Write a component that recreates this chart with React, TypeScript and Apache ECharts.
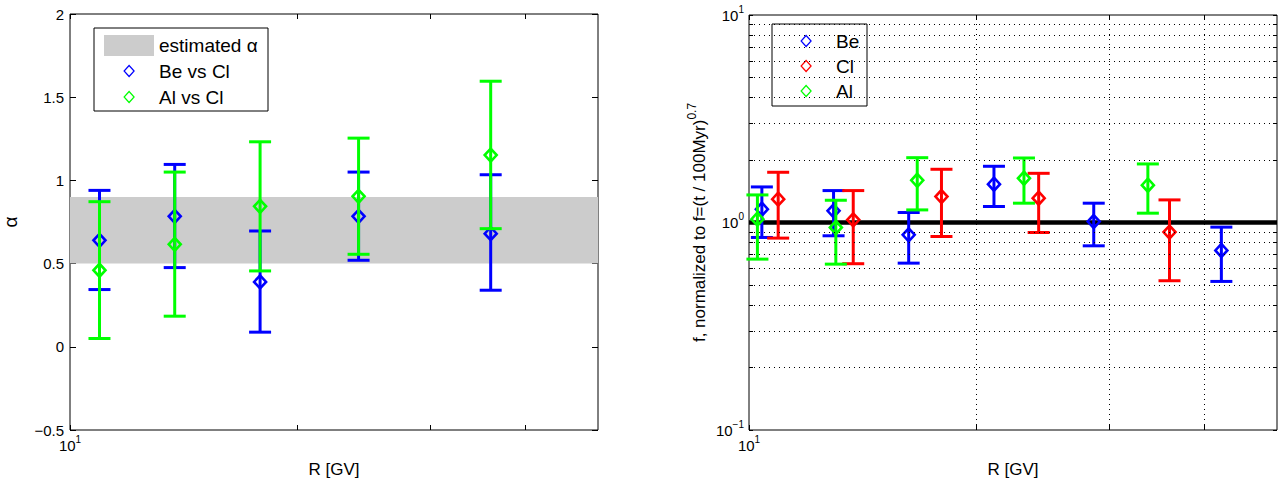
import React, { useEffect, useRef } from "react";
import * as echarts from "echarts";

const FONT = '"Liberation Sans", Arial, Helvetica, sans-serif';

// ---------- Left panel: alpha vs rigidity ----------
const alphaR = [10.94, 13.76, 17.85, 24.1, 36.05];
const beVsClAlpha = [0.64, 0.784, 0.39, 0.784, 0.68];
const beVsClLow = [0.344, 0.476, 0.088, 0.52, 0.34];
const beVsClHigh = [0.94, 1.096, 0.696, 1.05, 1.034];
const alVsClAlpha = [0.46, 0.616, 0.844, 0.904, 1.152];
const alVsClLow = [0.05, 0.184, 0.456, 0.556, 0.71];
const alVsClHigh = [0.872, 1.05, 1.232, 1.254, 1.596];
const alphaBand = [0.5, 0.9];

// ---------- Right panel: normalized f vs rigidity ----------
const beR = [10.4, 12.94, 16.27, 21.1, 28.6, 42.2];
const beF = [1.159, 1.138, 0.872, 1.529, 1.011, 0.733];
const beLow = [0.847, 0.863, 0.637, 1.194, 0.772, 0.52];
const beHigh = [1.484, 1.425, 1.117, 1.866, 1.239, 0.95];

const clR = [10.93, 13.74, 17.98, 24.18, 36.03];
const clF = [1.295, 1.03, 1.334, 1.309, 0.899];
const clLow = [0.841, 0.633, 0.856, 0.895, 0.524];
const clHigh = [1.746, 1.425, 1.805, 1.726, 1.285];

const alR = [10.26, 13.03, 16.7, 23.12, 33.73];
const alF = [1.038, 0.946, 1.598, 1.634, 1.512];
const alLow = [0.666, 0.63, 1.15, 1.239, 1.109];
const alHigh = [1.358, 1.28, 2.053, 2.046, 1.915];

const refR = [10, 50];
const refF = [1, 1];

// ---------- Axis ticks ----------
const rRange = [10, 50];
const rTicks = [10, 20, 30, 40];
const rGrid = [20, 30, 40];
const rLabelTicks = [10];
const alphaRange = [-0.5, 2];
const alphaStep = 0.5;
const fRange = [0.1, 10];
const fMajorTicks = [0.1, 1, 10];
const fMinorTicks = [0.2, 0.3, 0.4, 0.5, 0.6, 0.7, 0.8, 0.9, 2, 3, 4, 5, 6, 7, 8, 9];

const BLUE = "#0000ff";
const GREEN = "#00ff00";
const RED = "#ff0000";

const zip4 = (x: number[], y: number[], lo: number[], hi: number[]) =>
  x.map((v, i) => [v, y[i], lo[i], hi[i]]);

const errRender = (color: string) => (params: any, api: any) => {
  const x = api.value(0);
  const c = api.coord([x, api.value(1)]);
  const l = api.coord([x, api.value(2)]);
  const h = api.coord([x, api.value(3)]);
  const hw = 11;
  const st = { stroke: color, lineWidth: 3, fill: "none" };
  return {
    type: "group",
    children: [
      { type: "line", shape: { x1: c[0], y1: h[1], x2: c[0], y2: l[1] }, style: st },
      { type: "line", shape: { x1: c[0] - hw, y1: h[1], x2: c[0] + hw, y2: h[1] }, style: st },
      { type: "line", shape: { x1: c[0] - hw, y1: l[1], x2: c[0] + hw, y2: l[1] }, style: st },
      {
        type: "polygon",
        shape: {
          points: [
            [c[0], c[1] - 6.5],
            [c[0] + 6, c[1]],
            [c[0], c[1] + 6.5],
            [c[0] - 6, c[1]],
          ],
        },
        style: { stroke: color, lineWidth: 2.6, fill: "none" },
      },
    ],
  };
};

const supRich = {
  b: { fontSize: 15, lineHeight: 22, fontFamily: FONT, color: "#000" },
  s: { fontSize: 10, lineHeight: 12, verticalAlign: "top", fontFamily: FONT, color: "#000" },
};
const pow10 = (v: number) => {
  const e = Math.round(Math.log10(v));
  return `{b|10}{s|${e < 0 ? "\u2212" + -e : e}}`;
};

const nameStyle = { fontSize: 17, fontFamily: FONT, color: "#000" };

const xAxisOf = (gridIndex: number, position: string, labels: boolean) => ({
  type: "log",
  logBase: 10,
  gridIndex,
  position,
  min: rRange[0],
  max: rRange[1],
  axisLine: { show: false, onZero: false },
  axisTick: {
    show: true,
    inside: true,
    length: 5,
    customValues: rTicks,
    lineStyle: { color: "#000", width: 1 },
  },
  axisLabel: labels
    ? { show: true, customValues: rLabelTicks, formatter: pow10, margin: 4, rich: supRich }
    : { show: false },
  splitLine: { show: false },
  name: labels ? "R [GV]" : "",
  nameLocation: "middle",
  nameGap: 31,
  nameTextStyle: nameStyle,
});

const DIAMOND = "path://M5,0 L10,5.5 L5,11 L0,5.5 Z";
const legendText = { fontSize: 19, fontFamily: FONT, color: "#000", lineHeight: 20 };

export default function App() {
  const ref = useRef<HTMLDivElement>(null);
  useEffect(() => {
    document.body.style.margin = "0";
    if (!ref.current) return;
    const chart = echarts.init(ref.current, null, { renderer: "svg" });
    const option: any = {
      animation: false,
      backgroundColor: "#ffffff",
      grid: [
        { left: 69, top: 14, width: 529, height: 416, show: true, borderColor: "#000", borderWidth: 1, backgroundColor: "transparent" },
        { left: 749, top: 15, width: 528, height: 416, show: true, borderColor: "#000", borderWidth: 1, backgroundColor: "transparent" },
      ],
      xAxis: [
        xAxisOf(0, "bottom", true),
        xAxisOf(0, "top", false),
        xAxisOf(1, "bottom", true),
        xAxisOf(1, "top", false),
      ],
      yAxis: [
        {
          type: "value",
          gridIndex: 0,
          position: "left",
          min: alphaRange[0],
          max: alphaRange[1],
          interval: alphaStep,
          axisLine: { show: false, onZero: false },
          axisTick: { show: true, inside: true, length: 6, lineStyle: { color: "#000" } },
          axisLabel: {
            margin: 6,
            fontSize: 15,
            fontFamily: FONT,
            color: "#000",
            formatter: (v: number) => (v < 0 ? "\u2212" + Math.abs(v) : String(v)),
          },
          splitLine: { show: false },
          name: "α",
          nameLocation: "middle",
          nameGap: 50,
          nameTextStyle: { ...nameStyle, fontSize: 19 },
        },
        {
          type: "value",
          gridIndex: 0,
          position: "right",
          min: alphaRange[0],
          max: alphaRange[1],
          interval: alphaStep,
          axisLine: { show: false, onZero: false },
          axisTick: { show: true, inside: true, length: 6, lineStyle: { color: "#000" } },
          axisLabel: { show: false },
          splitLine: { show: false },
        },
        {
          type: "log",
          logBase: 10,
          gridIndex: 1,
          position: "left",
          min: fRange[0],
          max: fRange[1],
          axisLine: { show: false, onZero: false },
          axisTick: {
            show: true,
            inside: true,
            length: 4,
            customValues: [...fMajorTicks, ...fMinorTicks],
            lineStyle: { color: "#000" },
          },
          axisLabel: { customValues: fMajorTicks, formatter: pow10, margin: 5, rich: supRich },
          splitLine: { show: false },
          name: "f, normalized to f=(t / 100Myr){s|0.7}",
          nameLocation: "middle",
          nameGap: 37,
          nameTextStyle: {
            ...nameStyle,
            lineHeight: 26,
            rich: {
              s: { fontSize: 12, lineHeight: 12, verticalAlign: "top", fontFamily: FONT, color: "#000" },
            },
          },
        },
        {
          type: "log",
          logBase: 10,
          gridIndex: 1,
          position: "right",
          min: fRange[0],
          max: fRange[1],
          axisLine: { show: false, onZero: false },
          axisTick: {
            show: true,
            inside: true,
            length: 4,
            customValues: [...fMajorTicks, ...fMinorTicks],
            lineStyle: { color: "#000" },
          },
          axisLabel: { show: false },
          splitLine: { show: false },
        },
      ],
      legend: [
        {
          data: [{ name: "estimated α", icon: "rect", itemStyle: { color: "#cccccc" } }],
          left: 104,
          top: 35,
          padding: 0,
          itemWidth: 50,
          itemHeight: 21,
          selectedMode: false,
          textStyle: legendText,
        },
        {
          data: [
            { name: "Be vs Cl", icon: DIAMOND, itemStyle: { color: "rgba(0,0,0,0)", borderColor: BLUE, borderWidth: 1.2 } },
            { name: "Al vs Cl", icon: DIAMOND, itemStyle: { color: "rgba(0,0,0,0)", borderColor: GREEN, borderWidth: 1.2 } },
          ],
          orient: "vertical",
          left: 123.5,
          top: 61,
          padding: 0,
          itemWidth: 50,
          itemHeight: 11,
          itemGap: 6,
          selectedMode: false,
          textStyle: legendText,
        },
        {
          data: [
            { name: "Be", icon: DIAMOND, itemStyle: { color: "rgba(0,0,0,0)", borderColor: BLUE, borderWidth: 1.2 } },
            { name: "Cl", icon: DIAMOND, itemStyle: { color: "rgba(0,0,0,0)", borderColor: RED, borderWidth: 1.2 } },
            { name: "Al", icon: DIAMOND, itemStyle: { color: "rgba(0,0,0,0)", borderColor: GREEN, borderWidth: 1.2 } },
          ],
          orient: "vertical",
          left: 800.5,
          top: 31,
          padding: 0,
          itemWidth: 50,
          itemHeight: 11,
          itemGap: 5,
          selectedMode: false,
          textStyle: legendText,
        },
      ],
      graphic: [
        { type: "rect", z: 3, shape: { x: 94, y: 28, width: 174, height: 83 }, style: { fill: "#fff", stroke: "#000", lineWidth: 1 } },
        { type: "rect", z: 3, shape: { x: 772, y: 24, width: 95, height: 82 }, style: { fill: "#fff", stroke: "#000", lineWidth: 1 } },
      ],
      series: [
        {
          name: "estimated α",
          type: "line",
          xAxisIndex: 0,
          yAxisIndex: 0,
          data: [],
          silent: true,
          markArea: {
            silent: true,
            itemStyle: { color: "#cccccc" },
            data: [[{ yAxis: alphaBand[0] }, { yAxis: alphaBand[1] }]],
          },
        },
        {
          name: "Be vs Cl",
          type: "custom",
          xAxisIndex: 0,
          yAxisIndex: 0,
          z: 3,
          itemStyle: { color: BLUE },
          encode: { x: 0, y: [1, 2, 3] },
          renderItem: errRender(BLUE),
          data: zip4(alphaR, beVsClAlpha, beVsClLow, beVsClHigh),
        },
        {
          name: "Al vs Cl",
          type: "custom",
          xAxisIndex: 0,
          yAxisIndex: 0,
          z: 3,
          itemStyle: { color: GREEN },
          encode: { x: 0, y: [1, 2, 3] },
          renderItem: errRender(GREEN),
          data: zip4(alphaR, alVsClAlpha, alVsClLow, alVsClHigh),
        },
        {
          name: "grid",
          type: "line",
          xAxisIndex: 2,
          yAxisIndex: 2,
          data: [],
          silent: true,
          markLine: {
            silent: true,
            symbol: ["none", "none"],
            label: { show: false },
            lineStyle: { color: "#000", width: 1, type: [1, 4] },
            data: [...rGrid.map((v) => ({ xAxis: v })), ...fMinorTicks.map((v) => ({ yAxis: v }))],
          },
        },
        {
          name: "reference",
          type: "line",
          xAxisIndex: 2,
          yAxisIndex: 2,
          symbol: "none",
          silent: true,
          z: 2,
          lineStyle: { color: "#000", width: 4.5 },
          data: refR.map((r, i) => [r, refF[i]]),
        },
        {
          name: "Be",
          type: "custom",
          xAxisIndex: 2,
          yAxisIndex: 2,
          z: 3,
          itemStyle: { color: BLUE },
          encode: { x: 0, y: [1, 2, 3] },
          renderItem: errRender(BLUE),
          data: zip4(beR, beF, beLow, beHigh),
        },
        {
          name: "Cl",
          type: "custom",
          xAxisIndex: 2,
          yAxisIndex: 2,
          z: 3,
          itemStyle: { color: RED },
          encode: { x: 0, y: [1, 2, 3] },
          renderItem: errRender(RED),
          data: zip4(clR, clF, clLow, clHigh),
        },
        {
          name: "Al",
          type: "custom",
          xAxisIndex: 2,
          yAxisIndex: 2,
          z: 3,
          itemStyle: { color: GREEN },
          encode: { x: 0, y: [1, 2, 3] },
          renderItem: errRender(GREEN),
          data: zip4(alR, alF, alLow, alHigh),
        },
      ],
    };
    chart.setOption(option);
    return () => chart.dispose();
  }, []);
  return <div ref={ref} style={{ width: 1284, height: 483 }} />;
}
